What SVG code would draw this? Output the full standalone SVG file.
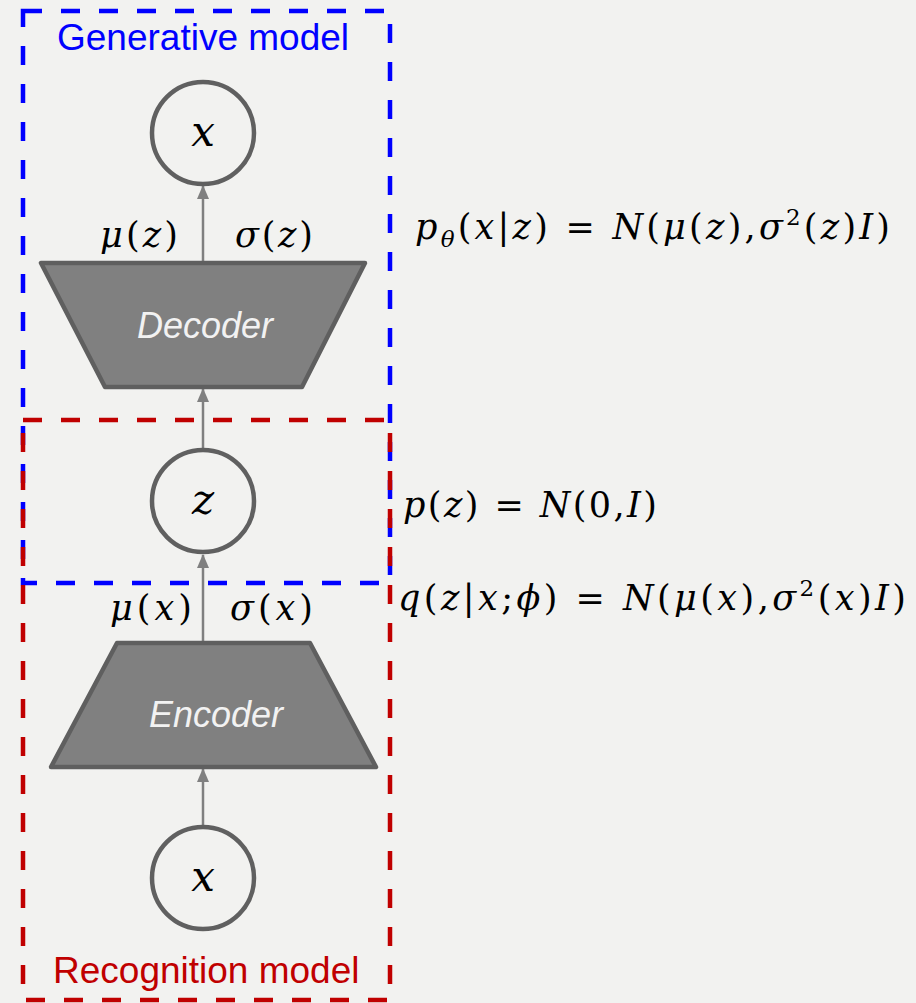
<svg xmlns="http://www.w3.org/2000/svg" width="916" height="1003" viewBox="0 0 916 1003">
<defs>
<style>
.bg{fill:#f2f2f0}
.box{fill:none;stroke-width:4.5;stroke-dasharray:19 19}
.blue{stroke:#0000ff}
.red{stroke:#c00000}
.node{fill:none;stroke:#606060;stroke-width:4.5}
.trap{fill:#808080;stroke:#5f5f5f;stroke-width:4.5;stroke-linejoin:round}
.conn{stroke:#808080;stroke-width:2.5;fill:none;marker-end:url(#ah)}
.m{font-family:"DejaVu Serif","Liberation Serif",serif;font-style:italic;fill:#000}
.u{font-style:normal}
.lbl{font-family:"Liberation Sans",Arial,sans-serif;font-size:37px}
.inner{font-family:"Liberation Sans",Arial,sans-serif;font-style:italic;font-size:36px;fill:#f2f2f2;text-anchor:middle}
</style>
<marker id="ah" viewBox="0 0 14 12" refX="13" refY="6" markerWidth="14" markerHeight="12" markerUnits="userSpaceOnUse" orient="auto">
<path d="M0,0 L14,6 L0,12 Z" fill="#808080"/>
</marker>
</defs>
<rect class="bg" x="0" y="0" width="916" height="1003"/>

<g id="generative-box">
<rect class="box blue" x="23" y="11" width="367" height="572"/>
<text class="lbl" x="57" y="50" fill="#0000ff">Generative model</text>
</g>
<g id="recognition-box">
<rect class="box red" x="23" y="420" width="367" height="580"/>
<text class="lbl" x="53" y="983" fill="#c00000">Recognition model</text>
</g>

<g id="connectors">
<line class="conn" x1="203" y1="263" x2="203" y2="186"/>
<line class="conn" x1="203" y1="449" x2="203" y2="389"/>
<line class="conn" x1="203" y1="643" x2="203" y2="555"/>
<line class="conn" x1="203" y1="826" x2="203" y2="769"/>
</g>

<g id="x-top">
<circle class="node" cx="203" cy="133" r="51"/>
<text class="m" x="203" y="146" font-size="42" text-anchor="middle">x</text>
</g>
<g id="decoder">
<polygon class="trap" points="41,263 365,263 302,387 105,387"/>
<text class="inner" x="205" y="338">Decoder</text>
<text class="m" x="100" y="247" font-size="35" textLength="78">μ<tspan class="u">(</tspan>z<tspan class="u">)</tspan></text>
<text class="m" x="235" y="247" font-size="35" textLength="78">σ<tspan class="u">(</tspan>z<tspan class="u">)</tspan></text>
</g>
<g id="z-node">
<circle class="node" cx="203" cy="501" r="51"/>
<text class="m" x="203" y="514" font-size="42" text-anchor="middle">z</text>
</g>
<g id="encoder">
<polygon class="trap" points="117,643 310,643 376,767 51,767"/>
<text class="inner" x="216" y="727">Encoder</text>
<text class="m" x="110" y="620" font-size="35" textLength="82">μ<tspan class="u">(</tspan>x<tspan class="u">)</tspan></text>
<text class="m" x="230" y="620" font-size="35" textLength="83">σ<tspan class="u">(</tspan>x<tspan class="u">)</tspan></text>
</g>
<g id="x-bottom">
<circle class="node" cx="203" cy="878" r="51"/>
<text class="m" x="203" y="891" font-size="42" text-anchor="middle">x</text>
</g>

<g id="formulas">
<text class="m" x="415" y="239" font-size="35" textLength="475">p<tspan font-size="23" dy="8">θ</tspan><tspan class="u" dy="-8">(</tspan>x<tspan class="u">|</tspan>z<tspan class="u">) = </tspan>N<tspan class="u">(</tspan>μ<tspan class="u">(</tspan>z<tspan class="u">),</tspan>σ<tspan class="u" font-size="23" dy="-14">2</tspan><tspan class="u" dy="14">(</tspan>z<tspan class="u">)</tspan>I<tspan class="u">)</tspan></text>
<text class="m" x="403" y="517" font-size="35" textLength="254">p<tspan class="u">(</tspan>z<tspan class="u">) = </tspan>N<tspan class="u">(0,</tspan>I<tspan class="u">)</tspan></text>
<text class="m" x="398" y="610" font-size="35" textLength="508">q<tspan class="u">(</tspan>z<tspan class="u">|</tspan>x<tspan class="u">;</tspan>ϕ<tspan class="u">) = </tspan>N<tspan class="u">(</tspan>μ<tspan class="u">(</tspan>x<tspan class="u">),</tspan>σ<tspan class="u" font-size="23" dy="-14">2</tspan><tspan class="u" dy="14">(</tspan>x<tspan class="u">)</tspan>I<tspan class="u">)</tspan></text>
</g>
</svg>
